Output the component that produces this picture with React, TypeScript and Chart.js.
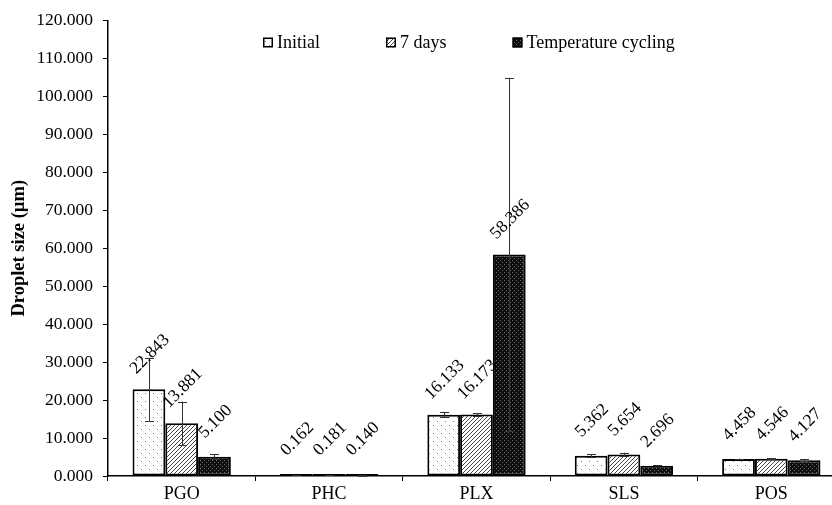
import React, { useEffect, useRef } from "react";
import { Chart, registerables } from "chart.js";

Chart.register(...registerables);

const categories = ["PGO", "PHC", "PLX", "SLS", "POS"];
const seriesLabels = ["Initial", "7 days", "Temperature cycling"];
const initialValues = [22.843, 0.162, 16.133, 5.362, 4.458];
const sevenDayValues = [13.881, 0.181, 16.173, 5.654, 4.546];
const cyclingValues = [5.1, 0.14, 58.386, 2.696, 4.127];
const initialErrors = [8.3, 0.02, 0.6, 0.4, 0.1];
const sevenDayErrors = [5.7, 0.02, 0.3, 0.5, 0.1];
const cyclingErrors = [0.7, 0.01, 46.5, 0.2, 0.3];
const yTicksMin = 0;
const yTicksMax = 120;
const yTickStep = 10;

const FONT = "'Liberation Serif', 'Times New Roman', serif";

function makeTile(size: number, draw: (c: CanvasRenderingContext2D) => void): CanvasPattern | string {
  const cv = document.createElement("canvas");
  cv.width = size;
  cv.height = size;
  const c = cv.getContext("2d");
  if (!c) return "#fff";
  draw(c);
  const p = c.createPattern(cv, "repeat");
  return p || "#fff";
}

function makePatterns() {
  const dots = makeTile(8, (c) => {
    c.fillStyle = "#fff";
    c.fillRect(0, 0, 8, 8);
    c.fillStyle = "#777";
    c.fillRect(1, 1, 1, 1);
    c.fillRect(5, 5, 1, 1);
  });
  const hatch = makeTile(4, (c) => {
    c.fillStyle = "#fff";
    c.fillRect(0, 0, 4, 4);
    c.fillStyle = "#444";
    for (let i = 0; i < 4; i++) {
      c.fillRect(i, 3 - i, 1, 1);
    }
  });
  const dense = makeTile(4, (c) => {
    c.fillStyle = "#0d0d0d";
    c.fillRect(0, 0, 4, 4);
    c.fillStyle = "#707070";
    c.fillRect(0, 0, 1, 1);
    c.fillRect(2, 2, 1, 1);
  });
  return [dots, hatch, dense];
}

const errorBarsPlugin = {
  id: "errorBars",
  afterDatasetsDraw(chart: any) {
    const ctx = chart.ctx;
    const y = chart.scales.y;
    chart.data.datasets.forEach((ds: any, di: number) => {
      const meta = chart.getDatasetMeta(di);
      const errs: number[] = ds.errors || [];
      meta.data.forEach((el: any, i: number) => {
        const v = ds.data[i];
        const e = errs[i] || 0;
        const top = y.getPixelForValue(v + e);
        const bot = y.getPixelForValue(v - e);
        const x = Math.round(el.x);
        ctx.save();
        ctx.strokeStyle = "#333";
        ctx.lineWidth = 1;
        ctx.beginPath();
        ctx.moveTo(x + 0.5, top);
        ctx.lineTo(x + 0.5, bot);
        ctx.moveTo(x - 4, Math.round(top) + 0.5);
        ctx.lineTo(x + 5, Math.round(top) + 0.5);
        ctx.moveTo(x - 4, Math.round(bot) + 0.5);
        ctx.lineTo(x + 5, Math.round(bot) + 0.5);
        ctx.stroke();
        ctx.restore();
      });
    });
  },
};

const valueLabelsPlugin = {
  id: "valueLabels",
  afterDatasetsDraw(chart: any) {
    const ctx = chart.ctx;
    chart.data.datasets.forEach((ds: any, di: number) => {
      const meta = chart.getDatasetMeta(di);
      meta.data.forEach((el: any, i: number) => {
        const txt = Number(ds.data[i]).toFixed(3);
        ctx.save();
        ctx.translate(el.x + 1, el.y - 35);
        ctx.rotate(-Math.PI / 4);
        ctx.font = `17.5px ${FONT}`;
        ctx.fillStyle = "#000";
        ctx.textAlign = "center";
        ctx.textBaseline = "middle";
        ctx.fillText(txt, 0, 0);
        ctx.restore();
      });
    });
  },
};

const customLegendPlugin = {
  id: "customLegend",
  afterDraw(chart: any) {
    const ctx = chart.ctx;
    const area = chart.chartArea;
    let x = area.left + 155;
    const yMid = area.top + 22;
    ctx.save();
    ctx.font = `18px ${FONT}`;
    ctx.textBaseline = "middle";
    ctx.textAlign = "left";
    chart.data.datasets.forEach((ds: any) => {
      ctx.fillStyle = ds.backgroundColor;
      ctx.fillRect(x, yMid - 5, 10, 10);
      ctx.strokeStyle = "#000";
      ctx.lineWidth = 1.5;
      ctx.strokeRect(x + 0.75, yMid - 4.25, 8.5, 8.5);
      ctx.fillStyle = "#000";
      ctx.fillText(ds.label, x + 14, yMid + 1);
      const w = ctx.measureText(ds.label).width;
      x += 14 + w + 66;
    });
    ctx.restore();
  },
};

export default function App() {
  const ref = useRef<HTMLCanvasElement | null>(null);
  useEffect(() => {
    if (!ref.current) return;
    const [dots, hatch, dense] = makePatterns();
    const values = [initialValues, sevenDayValues, cyclingValues];
    const errors = [initialErrors, sevenDayErrors, cyclingErrors];
    const fills = [dots, hatch, dense];
    const chart = new Chart(ref.current, {
      type: "bar",
      data: {
        labels: categories,
        datasets: seriesLabels.map((label, i) => ({
          label,
          data: values[i],
          errors: errors[i],
          backgroundColor: fills[i] as any,
          borderColor: "#000",
          borderWidth: 2,
          borderSkipped: false,
          minBarLength: 2,
          categoryPercentage: 0.667,
          barPercentage: 1.0,
        })) as any,
      },
      options: {
        animation: false,
        responsive: false,
        devicePixelRatio: 1,
        layout: { padding: { top: 10, left: 0, right: 0, bottom: 0 } },
        plugins: {
          legend: { display: false },
          tooltip: { enabled: false },
        },
        scales: {
          x: {
            afterFit: (s: any) => {
              s.height = 29;
            },
            grid: {
              display: true,
              drawOnChartArea: false,
              drawTicks: true,
              tickLength: 5,
              color: "#000",
              offset: true,
            },
            border: { display: true, color: "#000", width: 1.5 },
            ticks: {
              color: "#000",
              font: { family: FONT, size: 18 },
              padding: 2,
              maxRotation: 0,
            },
          },
          y: {
            min: yTicksMin,
            max: yTicksMax,
            afterFit: (s: any) => {
              s.width = 108;
            },
            grid: {
              display: true,
              drawOnChartArea: false,
              drawTicks: true,
              tickLength: 5,
              color: "#000",
            },
            border: { display: true, color: "#000", width: 1.5 },
            ticks: {
              stepSize: yTickStep,
              color: "#000",
              padding: 10,
              font: { family: FONT, size: 17.5 },
              callback: (v: any) => Number(v).toFixed(3),
            },
            title: {
              display: true,
              text: "Droplet size (µm)",
              color: "#000",
              font: { family: FONT, size: 18.5, weight: "bold" },
              padding: { top: 8, bottom: 0 },
            },
          },
        },
      },
      plugins: [errorBarsPlugin, valueLabelsPlugin, customLegendPlugin],
    });
    return () => chart.destroy();
  }, []);
  return (
    <div
      style={{
        position: "fixed",
        left: 0,
        top: 0,
        width: 832,
        height: 505,
        overflow: "hidden",
        background: "#fff",
      }}
    >
      <canvas ref={ref} width={845} height={505} style={{ display: "block" }} />
    </div>
  );
}
